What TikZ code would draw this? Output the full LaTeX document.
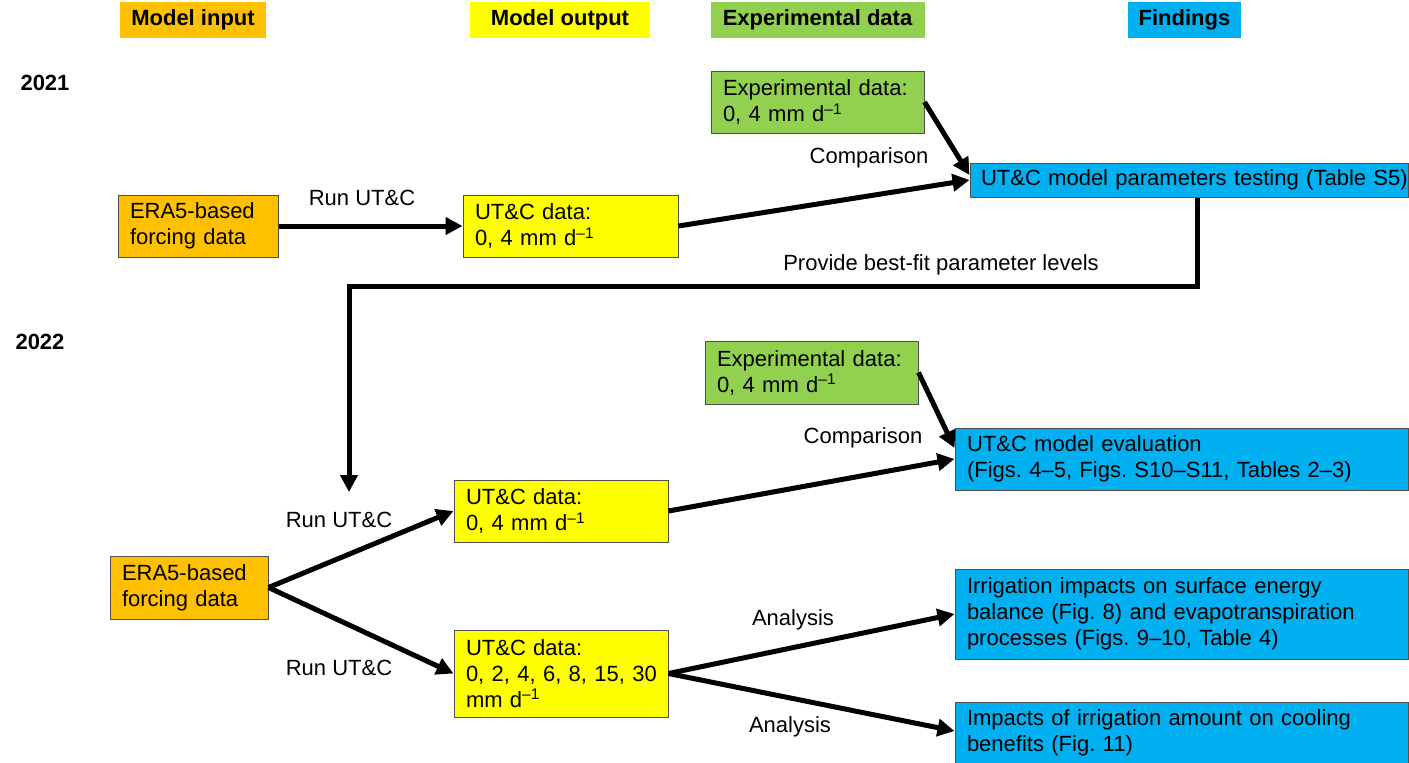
\documentclass[tikz,border=0pt]{standalone}
\usepackage{fontspec}
\setmainfont{Liberation Sans}
\usetikzlibrary{arrows.meta,calc}
\definecolor{cOr}{HTML}{FFC000}
\definecolor{cYe}{HTML}{FFFF00}
\definecolor{cGr}{HTML}{92D050}
\definecolor{cBl}{HTML}{00B0F0}
\definecolor{cBd}{HTML}{505050}
\frenchspacing
\begin{document}
\begin{tikzpicture}[x=1pt,y=-1pt,
  box/.style={draw=cBd, line width=1pt, inner xsep=12pt, inner ysep=0pt, align=left, font=\fontsize{22}{26}\selectfont},
  hdr/.style={inner sep=0pt, font=\fontsize{22}{26}\selectfont\bfseries, minimum height=36pt},
  yr/.style={inner sep=0pt, font=\fontsize{22}{26}\selectfont\bfseries},
  lbl/.style={inner sep=0pt, font=\fontsize{22}{26}\selectfont},
  arr/.style={line width=5pt, -{Triangle[length=17pt,width=17pt]}}]
\clip (0,0) rectangle (1409,763);
\fill[white] (0,0) rectangle (1409,763);
% headers
\node[hdr, fill=cOr, minimum width=146pt] (hin) at (193,20) {Model input};
\node[hdr, fill=cYe, minimum width=180pt] (hout) at (560,20) {Model output};
\node[hdr, fill=cGr, minimum width=214pt] (hexp) at (817.5,20) {Experimental data};
\node[hdr, fill=cBl, minimum width=113pt] (hfind) at (1184.5,20) {Findings};
\node[yr] (y21) at (45,83) {2021};
\node[yr] (y22) at (40,342) {2022};
% 2021
\node[box, fill=cOr, text width=136pt, minimum height=62pt] (era1) at (198,226) {ERA5-based\\forcing data};
\node[box, fill=cYe, text width=191pt, minimum height=62pt] (utc1) at (570.5,226) {UT\&C data:\\0, 4 mm d\textsuperscript{–1}};
\node[box, fill=cGr, text width=189pt, minimum height=62pt] (exp1) at (817.5,102) {Experimental data:\\0, 4 mm d\textsuperscript{–1}};
\node[box, fill=cBl, inner xsep=11pt, text width=416pt, minimum height=34pt] (find1) at (1189,180) {\mbox{UT\&C model parameters testing (Table S5)}};
% 2022
\node[box, fill=cGr, text width=189pt, minimum height=63pt] (exp2) at (811.5,372.5) {Experimental data:\\0, 4 mm d\textsuperscript{–1}};
\node[box, fill=cBl, text width=429pt, minimum height=62pt] (find2) at (1181.5,459) {UT\&C model evaluation\\(Figs. 4–5, Figs. S10–S11, Tables 2–3)};
\node[box, fill=cYe, text width=190pt, minimum height=62pt] (utc2a) at (561,511) {UT\&C data:\\0, 4 mm d\textsuperscript{–1}};
\node[box, fill=cOr, text width=134pt, minimum height=63pt] (era2) at (189,587.5) {ERA5-based\\forcing data};
\node[box, fill=cYe, text width=190pt, minimum height=87pt] (utc2b) at (561,673.5) {UT\&C data:\\\mbox{0, 2, 4, 6, 8, 15, 30}\\mm d\textsuperscript{–1}};
\node[box, fill=cBl, text width=429pt, minimum height=90pt] (find3) at (1181.5,614) {Irrigation impacts on surface energy\\balance (Fig. 8) and evapotranspiration\\processes (Figs. 9–10, Table 4)};
\node[box, fill=cBl, text width=429pt, minimum height=62pt] (find4) at (1181.5,733) {Impacts of irrigation amount on cooling\\benefits (Fig. 11)};
% connectors 2021
\draw[arr] (era1.east) -- (utc1.west);
\draw[arr] (utc1.east) -- (find1.west);
\draw[arr] (exp1.east) -- ([yshift=5pt]find1.west);
\coordinate (fbturn) at (349,286);
\coordinate (fbend) at (349,492);
\draw[arr, line join=miter] ([xshift=8pt]find1.south) |- (fbturn) -- (fbend);
% connectors 2022
\draw[arr] (era2.east) -- (utc2a.west);
\draw[arr] (era2.east) -- (utc2b.west);
\draw[arr] (utc2a.east) -- (find2.west);
\draw[arr] (exp2.east) -- ([yshift=11pt]find2.west);
\draw[arr] (utc2b.east) -- (find3.west);
\draw[arr] (utc2b.east) -- ([yshift=2pt]find4.west);
% labels
\node[lbl] (l1) at (362,198) {Run UT\&C};
\node[lbl] (l2) at (869,158) {Comparison};
\node[lbl] (l3) at (941,265) {Provide best-fit parameter levels};
\node[lbl] (l4) at (863,438) {Comparison};
\node[lbl] (l5) at (339,520) {Run UT\&C};
\node[lbl] (l6) at (339,668) {Run UT\&C};
\node[lbl] (l7) at (793,620) {Analysis};
\node[lbl] (l8) at (790,727) {Analysis};
\end{tikzpicture}
\end{document}
